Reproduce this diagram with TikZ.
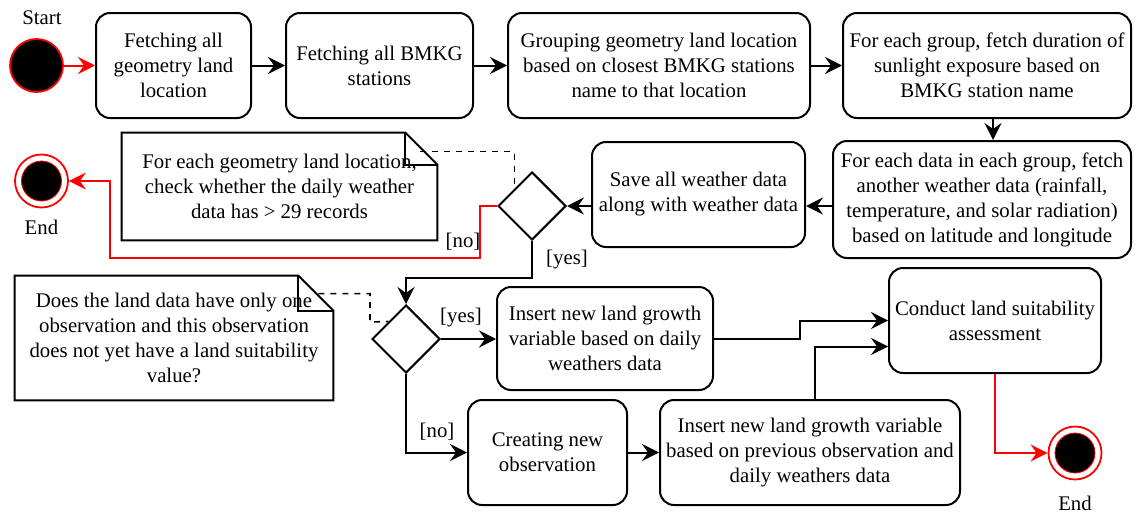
\documentclass[tikz,border=0pt]{standalone}
\usepackage{fontspec}
\setmainfont{Liberation Serif}
\usetikzlibrary{shapes.geometric,arrows.meta,calc}
\begin{document}
\begin{tikzpicture}[x=0.5pt,y=-0.5pt,
  font=\fontsize{10.4}{12.5}\selectfont,
  box/.style={draw,line width=1pt,rounded corners=7pt,align=center,inner sep=0pt},
  dec/.style={draw,diamond,aspect=1,line width=1pt,minimum width=34pt,minimum height=34pt,inner sep=0pt},
  note/.style={align=center,inner sep=0pt},
  noteline/.style={line width=1pt},
  flow/.style={line width=1pt,-{Stealth[length=8.5pt,width=8.5pt,inset=3pt]}},
  redflow/.style={flow,red},
  dashline/.style={dashed,line width=0.8pt},
  startdot/.style={circle,draw=red,fill=black,line width=0.9pt,minimum size=26.5pt,inner sep=0pt},
  endring/.style={circle,draw=red,fill=white,line width=0.9pt,minimum size=26.5pt,inner sep=0pt},
  enddot/.style={circle,draw=red,fill=black,line width=0.4pt,minimum size=20pt,inner sep=0pt}
]
\useasboundingbox (0,0) rectangle (1145,514);

% start / end
\node[startdot] (start) at (36.5,65.5) {};
\node (startlbl) at (42,18) {Start};
\node[endring] (e1) at (41.5,181) {};
\node[enddot] (e1in) at (41.5,181) {};
\node (e1lbl) at (41.5,227) {End};
\node[endring] (e2) at (1075,453) {};
\node[enddot] (e2in) at (1075,453) {};
\node (e2lbl) at (1075,503) {End};

% top row
\node[box,minimum width=77.5pt,minimum height=52.5pt] (b1) at (173.5,65.5) {Fetching all\\geometry land\\location};
\node[box,minimum width=93.5pt,minimum height=52.5pt] (b2) at (379.5,65.5) {Fetching all BMKG\\stations};
\node[box,minimum width=151pt,minimum height=52.5pt] (b3) at (659,65.5) {Grouping geometry land location\\based on closest BMKG stations\\name to that location};
\node[box,minimum width=144pt,minimum height=52.5pt] (b4) at (987,65.5) {For each group, fetch duration of\\sunlight exposure based on\\BMKG station name};

% second row
\node[box,minimum width=149pt,minimum height=58.5pt] (b5) at (982,199.5) {For each data in each group, fetch\\another weather data (rainfall,\\temperature, and solar radiation)\\based on latitude and longitude};
\node[box,minimum width=106.5pt,minimum height=52.5pt] (b6) at (698.5,194.5) {Save all weather data\\along with weather data};
\node[dec] (d1) at (532,206) {};
\node[note,minimum width=157.5pt,minimum height=53.5pt] (n1) at (279.5,186.5) {For each geometry land location,\\check whether the daily weather\\data has > 29 records};

% third row
\node[dec] (d2) at (406,339) {};
\node[note,minimum width=159pt,minimum height=62pt] (n2) at (174,338) {Does the land data have only one\\observation and this observation\\does not yet have a land suitability\\value?};
\node[box,minimum width=108pt,minimum height=51.5pt] (b7) at (605,338.5) {Insert new land growth\\variable based on daily\\weathers data};
\node[box,minimum width=106pt,minimum height=52.5pt] (b8) at (995,320.5) {Conduct land suitability\\assessment};

% bottom row
\node[box,minimum width=79.5pt,minimum height=52.5pt] (b10) at (547.5,452.5) {Creating new\\observation};
\node[box,minimum width=150pt,minimum height=52.5pt] (b9) at (810,452.5) {Insert new land growth variable\\based on previous observation and\\daily weathers data};

% note outlines
\draw[noteline] (n1.south west) -- (n1.north west) -- ([xshift=-16pt]n1.north east) -- ([yshift=-16pt]n1.north east) -- (n1.south east) -- cycle;
\draw[noteline] ([xshift=-16pt]n1.north east) -- ([xshift=-16pt,yshift=-16pt]n1.north east) -- ([yshift=-16pt]n1.north east);
\draw[noteline] (n2.south west) -- (n2.north west) -- ([xshift=-17.5pt]n2.north east) -- ([yshift=-17.5pt]n2.north east) -- (n2.south east) -- cycle;
\draw[noteline] ([xshift=-17.5pt]n2.north east) -- ([xshift=-17.5pt,yshift=-17.5pt]n2.north east) -- ([yshift=-17.5pt]n2.north east);

% note anchors (dashed)
\draw[dashline] ([xshift=-8.5pt,yshift=-9.5pt]n1.north east) -| ($(d1.north)!0.5!(d1.west)$);
\coordinate (k2) at (370,322);
\draw[dashline] ([xshift=-7.5pt,yshift=-9pt]n2.north east) -| (k2) -- ($(d2.north)!0.5!(d2.west)$);

% flows
\draw[redflow] (start) -- (b1);
\draw[flow] (b1) -- (b2);
\draw[flow] (b2) -- (b3);
\draw[flow] (b3) -- (b4);
\draw[flow] ([xshift=3pt]b4.south) -- ([xshift=3pt]b4.south |- b5.north);
\draw[flow] (b5.west |- d1.east) -- (b6.east |- d1.east);
\draw[flow] (b6.west |- d1.east) -- (d1.east);
\draw[redflow] (d1.west) -- ++(-17,0) |- (110,258) |- (e1.east);
\node (no1) at (463,242) {[no]};
\draw[flow] (d1.south) -- ++(0,37) -| (d2.north);
\node (yes1) at (567,260) {[yes]};
\draw[flow] (d2.east) -- (b7.west |- d2.east);
\node (yes2) at (461,318) {[yes]};
\draw[flow] (d2.south) |- (b10.west);
\node (no2) at (437,432) {[no]};
\draw[flow] (b10) -- (b9);
\draw[flow] (b7.east |- d2.east) -- ++(86,0) |- (b8.west);
\draw[flow] ([xshift=2.5pt]b9.north) |- ([yshift=-13pt]b8.west);
\draw[redflow] (b8.south) |- (e2.west);
\end{tikzpicture}
\end{document}
